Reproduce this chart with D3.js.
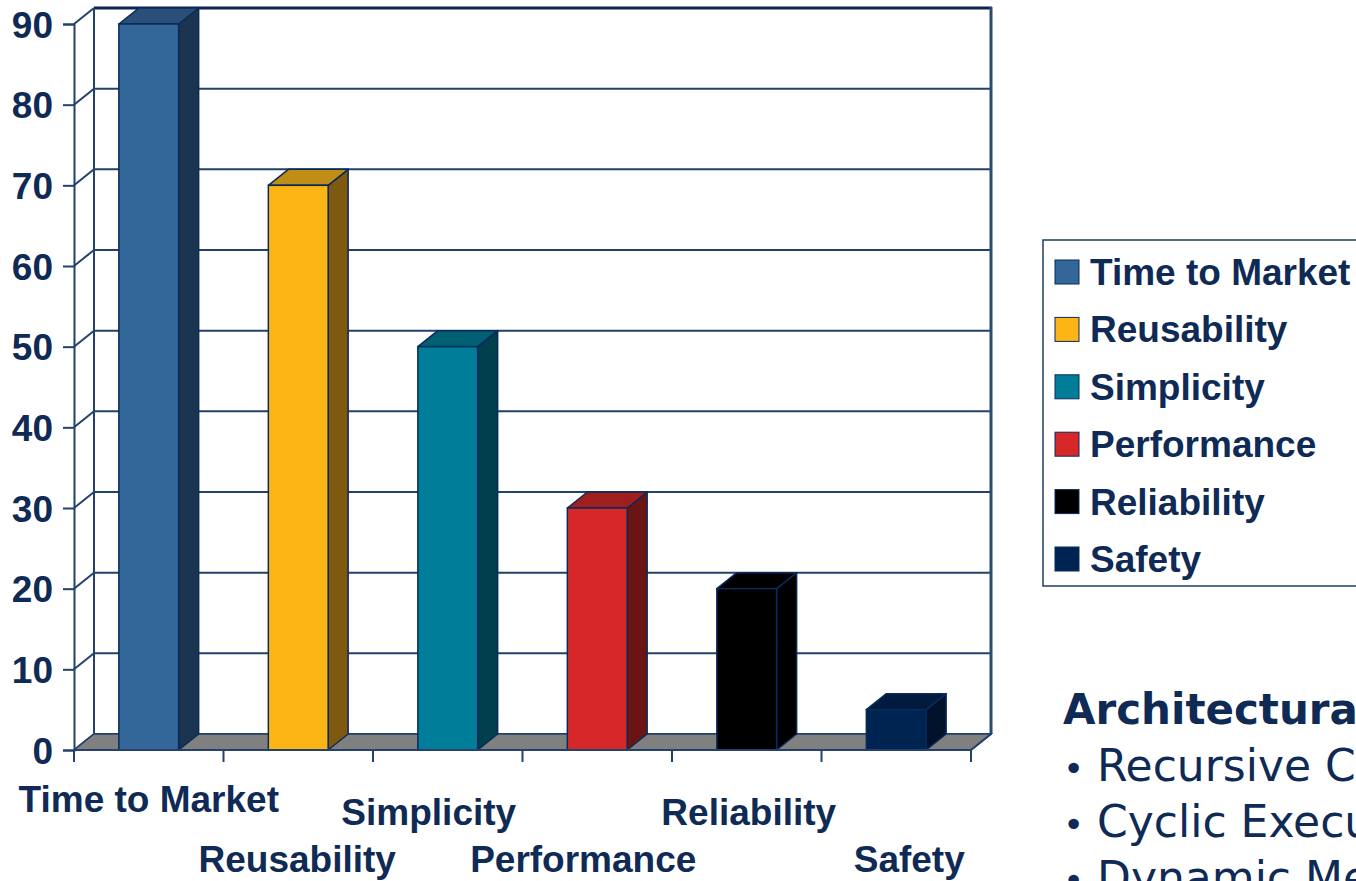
<!DOCTYPE html>
<html>
<head>
<meta charset="utf-8">
<script src="https://cdn.jsdelivr.net/npm/d3@7"></script>
<style>
  html, body { margin: 0; padding: 0; background: #ffffff; overflow: hidden; }
  svg { display: block; }
  text { font-family: "Liberation Sans", Arial, Helvetica, sans-serif; font-weight: bold; fill: #0f2a55; }
</style>
</head>
<body>
<svg id="chart" width="1356" height="881"></svg>
<script>
// ---- data ----
const categories = ["Time to Market", "Reusability", "Simplicity", "Performance", "Reliability", "Safety"];
const values = [90, 70, 50, 30, 20, 5];
const yTicks = [0, 10, 20, 30, 40, 50, 60, 70, 80, 90];
const frontColors = ["#336699", "#FDB515", "#007E99", "#D62828", "#000000", "#002451"];
const topColors   = ["#2A5079", "#C08E16", "#005F72", "#A01E1E", "#000000", "#001B3D"];
const sideColors  = ["#1B3450", "#7D5A0F", "#003F4C", "#6B1414", "#000000", "#00122A"];
const noteTitle = "Architectural Concerns";
const noteItems = ["Recursive Code", "Cyclic Executive", "Dynamic Memory"];

// ---- layout ----
(function () {
const svg = d3.select("#chart");
const navy = "#0f2a55";
const pLeft = 74, pRight = 971, pBottom = 750, pTop = 24;
const dx = 20, dy = -16;

const y = d3.scaleLinear().domain([0, 90]).range([pBottom, pTop]);
const x = d3.scaleBand().domain(categories).range([pLeft, pRight]).paddingInner(0.6).paddingOuter(0.3);
const edge = d3.scaleLinear().domain([0, categories.length]).range([pLeft, pRight]);

// back wall gridlines
const g = svg.append("g");
g.selectAll("line.grid").data(yTicks).join("line")
  .attr("x1", pLeft + dx).attr("x2", pRight + dx + 1)
  .attr("y1", d => y(d) + dy).attr("y2", d => y(d) + dy)
  .attr("stroke", d => d === 90 ? "#0a2550" : "#23416a").attr("stroke-width", d => d === 90 ? 3 : 2);
// side wall diagonals
g.selectAll("line.diag").data(yTicks).join("line")
  .attr("x1", pLeft).attr("y1", d => y(d))
  .attr("x2", pLeft + dx).attr("y2", d => y(d) + dy)
  .attr("stroke", "#23416a").attr("stroke-width", 2);
// back wall verticals
g.append("line").attr("x1", pLeft + dx).attr("x2", pLeft + dx).attr("y1", y(90) + dy).attr("y2", y(0) + dy)
  .attr("stroke", "#23416a").attr("stroke-width", 2);
g.append("line").attr("x1", pRight + dx).attr("x2", pRight + dx).attr("y1", y(90) + dy - 1).attr("y2", y(0) + dy)
  .attr("stroke", "#2e4a70").attr("stroke-width", 3);

// floor
g.append("path")
  .attr("d", `M${pLeft},${y(0)} L${pRight},${y(0)} L${pRight + dx},${y(0) + dy} L${pLeft + dx},${y(0) + dy} Z`)
  .attr("fill", "#808080").attr("stroke", "#23416a").attr("stroke-width", 1.5);

// bars
const bars = svg.append("g").selectAll("g").data(categories).join("g");
const bw = x.bandwidth();
bars.append("path")
  .attr("d", (c, i) => { const x0 = x(c) + bw, yv = y(values[i]);
    return `M${x0},${yv} L${x0 + dx},${yv + dy} L${x0 + dx},${y(0) + dy} L${x0},${y(0)} Z`; })
  .attr("fill", (c, i) => sideColors[i]).attr("stroke", "#0a2a5a").attr("stroke-width", 1.5).attr("stroke-linejoin", "round");
bars.append("path")
  .attr("d", (c, i) => { const x0 = x(c), yv = y(values[i]);
    return `M${x0},${yv} L${x0 + dx},${yv + dy} L${x0 + bw + dx},${yv + dy} L${x0 + bw},${yv} Z`; })
  .attr("fill", (c, i) => topColors[i]).attr("stroke", "#0a2a5a").attr("stroke-width", 1.5).attr("stroke-linejoin", "round");
bars.append("rect")
  .attr("x", c => x(c)).attr("width", bw)
  .attr("y", (c, i) => y(values[i])).attr("height", (c, i) => y(0) - y(values[i]))
  .attr("fill", (c, i) => frontColors[i]).attr("stroke", "#0a2a5a").attr("stroke-width", 1.5);

// y axis
const yAxis = svg.append("g").attr("transform", `translate(${pLeft},0)`)
  .call(d3.axisLeft(y).tickValues(yTicks).tickSize(11).tickPadding(10).tickFormat(d3.format("d")));
yAxis.select(".domain").attr("stroke", "#23416a").attr("stroke-width", 2);
yAxis.selectAll(".tick line").attr("stroke", "#23416a").attr("stroke-width", 2);
yAxis.selectAll(".tick text").attr("font-size", 37).attr("font-family", "Liberation Sans, Arial, sans-serif")
  .attr("font-weight", "bold").attr("fill", navy).attr("dy", "0.36em");

// x axis line and ticks
svg.append("line").attr("x1", pLeft).attr("x2", pRight).attr("y1", y(0)).attr("y2", y(0))
  .attr("stroke", "#23416a").attr("stroke-width", 2);
svg.append("line").attr("x1", pRight).attr("y1", y(0)).attr("x2", pRight + dx).attr("y2", y(0) + dy)
  .attr("stroke", "#23416a").attr("stroke-width", 2);
svg.selectAll("line.xt").data(d3.range(categories.length + 1)).join("line")
  .attr("x1", i => edge(i)).attr("x2", i => edge(i)).attr("y1", y(0)).attr("y2", y(0) + 12)
  .attr("stroke", "#23416a").attr("stroke-width", 2);

// x labels (staggered rows)
const labelBase = [812, 872, 825, 872, 825, 872];
const labelNudge = [0, -1, -19, -14, 2, 13];
svg.selectAll("text.xl").data(categories).join("text")
  .attr("x", (c, i) => x(c) + bw / 2 + labelNudge[i])
  .attr("y", (c, i) => labelBase[i])
  .attr("text-anchor", "middle").attr("font-size", 37).text(c => c);

// legend
const lg = svg.append("g");
lg.append("rect").attr("x", 1043).attr("y", 240).attr("width", 340).attr("height", 346)
  .attr("fill", "#ffffff").attr("stroke", "#1f3d66").attr("stroke-width", 1.5);
const items = lg.selectAll("g.li").data(categories).join("g")
  .attr("transform", (c, i) => `translate(1055,${285 + i * 57.4})`);
items.append("rect").attr("x", 0).attr("y", -25).attr("width", 24).attr("height", 24)
  .attr("fill", (c, i) => frontColors[i]).attr("stroke", "#0a2a5a").attr("stroke-width", 1);
items.append("text").attr("x", 35).attr("y", 0).attr("font-size", 37).text(c => c);

// note text on the right
const noteFont = "'DejaVu Sans', Verdana, sans-serif";
svg.append("text").attr("x", 1063).attr("y", 724).attr("font-size", 42)
  .style("font-weight", "bold").style("font-family", noteFont).text(noteTitle);
noteItems.forEach((t, i) => {
  svg.append("text").attr("x", 1063).attr("y", 781 + i * 56).attr("font-size", 36)
    .style("font-weight", "normal").style("font-family", noteFont).text("\u2022");
  svg.append("text").attr("x", 1097).attr("y", 781 + i * 56).attr("font-size", 44)
    .style("font-weight", "normal").style("font-family", noteFont).text(t);
});
})();
</script>
</body>
</html>
